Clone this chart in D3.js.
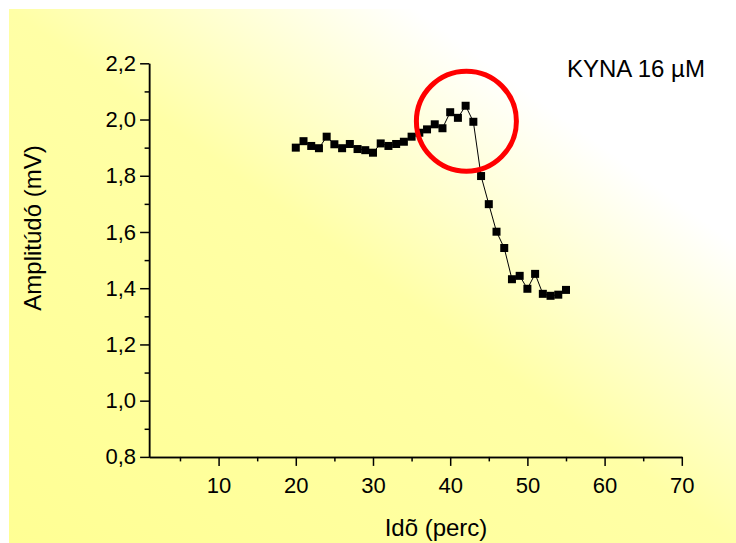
<!DOCTYPE html>
<html>
<head>
<meta charset="utf-8">
<script src="https://cdn.jsdelivr.net/npm/d3@7"></script>
<style>
  body { margin: 0; background: #fff; }
  text { font-family: "Liberation Sans", Arial, sans-serif; fill: #000; }
</style>
</head>
<body>
<script>
// time (perc) and amplitude (mV)
let time = [20, 21, 22, 23, 24, 25, 26, 27, 28, 29, 30, 31, 32, 33, 34, 35, 36, 37,
            38, 39, 40, 41, 42, 43, 44, 45, 46, 47, 48, 49, 50, 51, 52, 53, 54, 55]
let amp = [1.900, 1.923, 1.906, 1.898, 1.939, 1.912, 1.898, 1.913, 1.895, 1.891,
           1.882, 1.915, 1.906, 1.913, 1.921, 1.939, 1.953, 1.965, 1.983, 1.969,
           2.026, 2.006, 2.049, 1.992, 1.799, 1.699, 1.601, 1.543, 1.432, 1.444,
           1.398, 1.451, 1.380, 1.373, 1.377, 1.394]
let xTicks = [10, 20, 30, 40, 50, 60, 70]
let xMinor = [5, 15, 25, 35, 45, 55, 65]
let yTicks = [0.8, 1.0, 1.2, 1.4, 1.6, 1.8, 2.0, 2.2]
let yTickLabels = ["0,8", "1,0", "1,2", "1,4", "1,6", "1,8", "2,0", "2,2"]
let yMinor = [0.9, 1.1, 1.3, 1.5, 1.7, 1.9, 2.1]
let title = "KYNA 16 \u00b5M"
let xTitle = "Idõ (perc)"
let yTitle = "Amplitúdó (mV)"
// red circle marking the peak (in data units)
let highlight = {t: 42.1, a: 1.994}

let w = 736, h = 543
let data = time.map((t, i) => [t, amp[i]])

let svg = d3.select("body").append("svg")
    .attr("width", w)
    .attr("height", h)

let grad = svg.append("defs").append("linearGradient")
    .attr("id", "bg")
    .attr("x1", 0).attr("y1", 1)
    .attr("x2", 1).attr("y2", 0)
grad.append("stop").attr("offset", 0).attr("stop-color", "#ffff94")
grad.append("stop").attr("offset", 0.5).attr("stop-color", "#ffffa6")
grad.append("stop").attr("offset", 0.78).attr("stop-color", "#ffffff")

svg.append("rect")
    .attr("x", 9).attr("y", 9)
    .attr("width", w - 9).attr("height", h - 9)
    .attr("fill", "url(#bg)")

let xScale = d3.scaleLinear().domain([1, 70]).range([149.1, 681.8])
let yScale = d3.scaleLinear().domain([0.8, 2.2]).range([456.9, 63.3])
let x0 = xScale.range()[0], y0 = yScale.range()[0]

let xAxis = d3.axisBottom(xScale).tickValues(xTicks).tickSize(9).tickSizeOuter(0).tickPadding(11)
let xAxisMinor = d3.axisBottom(xScale).tickValues(xMinor).tickSize(4.5).tickSizeOuter(0).tickFormat("")
let yAxis = d3.axisLeft(yScale).tickValues(yTicks).tickSize(9).tickSizeOuter(0).tickPadding(4)
    .tickFormat((d, i) => yTickLabels[i])
let yAxisMinor = d3.axisLeft(yScale).tickValues(yMinor).tickSize(4.5).tickSizeOuter(0).tickFormat("")

let styleAxis = g => {
    g.selectAll("path, line").attr("stroke", "#000").attr("stroke-width", 1.5)
    g.selectAll("text").attr("font-size", 22).attr("font-family", null).attr("fill", "#000")
}

svg.append("g").attr("transform", "translate(0," + y0 + ")").call(xAxisMinor).call(styleAxis)
svg.append("g").attr("transform", "translate(0," + y0 + ")").call(xAxis).call(styleAxis)
svg.append("g").attr("transform", "translate(" + x0 + ",0)").call(yAxisMinor).call(styleAxis)
svg.append("g").attr("transform", "translate(" + x0 + ",0)").call(yAxis).call(styleAxis)

svg.append("path")
    .datum(data)
    .attr("fill", "none")
    .attr("stroke", "#000")
    .attr("stroke-width", 1)
    .attr("d", d3.line().x(d => xScale(d[0])).y(d => yScale(d[1])))

svg.selectAll(".pt")
    .data(data)
    .enter()
    .append("rect")
    .attr("class", "pt")
    .attr("x", d => xScale(d[0]) - 4)
    .attr("y", d => yScale(d[1]) - 4)
    .attr("width", 8)
    .attr("height", 8)
    .attr("fill", "#000")

svg.append("circle")
    .attr("cx", xScale(highlight.t))
    .attr("cy", yScale(highlight.a))
    .attr("r", 50)
    .attr("fill", "none")
    .attr("stroke", "#ff0000")
    .attr("stroke-width", 5)

svg.append("text")
    .attr("x", 567).attr("y", 77)
    .attr("font-size", 24)
    .text(title)

svg.append("text")
    .attr("x", 436).attr("y", 536)
    .attr("text-anchor", "middle")
    .attr("font-size", 24)
    .text(xTitle)

svg.append("text")
    .attr("transform", "translate(41,228) rotate(-90)")
    .attr("text-anchor", "middle")
    .attr("font-size", 24)
    .text(yTitle)
</script>
</body>
</html>
